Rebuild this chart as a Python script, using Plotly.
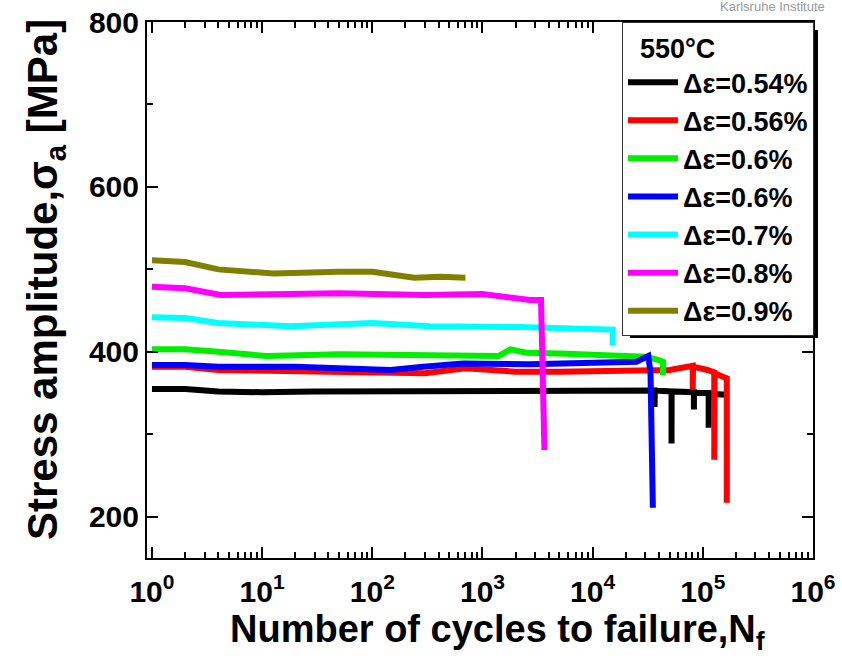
import plotly.graph_objects as go

# ---- data ----
labels = ["Δε=0.54%", "Δε=0.56%", "Δε=0.6%", "Δε=0.6%", "Δε=0.7%", "Δε=0.8%", "Δε=0.9%"]
colors = ["#000000", "#ff0000", "#00ee00", "#0000ff", "#00ffff", "#ff00ff", "#808000"]

n_054 = [1, 2, 4, 10, 30, 100, 300, 1000, 3000, 10000, 30000, 36500, 36500, 36600,
         52000, 52000, 52100, 83000, 83000, 83100, 113000, 113000, 113500, 170000]
s_054 = [355, 355, 352, 351, 352, 352, 353, 352, 353, 353, 353, 353, 333, 353,
         352, 289, 352, 351, 330, 350, 350, 308, 349, 348]

n_056 = [1, 2, 4, 10, 30, 100, 300, 700, 2000, 5000, 20000, 50000, 81000, 81000, 81500,
         110000, 127000, 127000, 128000, 150000, 165000, 165000]
s_056 = [382, 382, 378, 377, 376, 375, 374, 380, 376, 376, 377, 378, 383, 354, 382,
         378, 375, 269, 374, 370, 368, 217]

n_060a = [1, 2, 4, 11, 50, 200, 1000, 1400, 1800, 2500, 5000, 12500, 30000, 40000, 43500, 43500]
s_060a = [403, 403, 400, 395, 397, 396, 394, 395, 403, 399, 398, 396, 394, 390, 388, 372]

n_060b = [1, 2, 4, 20, 50, 146, 290, 670, 2700, 8900, 25000, 32000, 33500, 35200]
s_060b = [384, 384, 382, 382, 380, 378, 382, 386, 385, 386, 388, 395, 375, 211]

n_070 = [1, 2, 4, 18, 100, 335, 2200, 8000, 15200, 15200]
s_070 = [442, 441, 435, 431, 435, 431, 430, 428, 427, 408]

n_080 = [1, 2, 4.2, 50, 300, 1000, 2700, 3400, 3650]
s_080 = [479, 477, 469, 471, 469, 470, 463, 463, 281]

n_090 = [1, 2, 4, 12.7, 50, 100, 240, 420, 700]
s_090 = [511, 509, 500, 495, 497, 497, 490, 491, 490]

series_n = [n_054, n_056, n_060a, n_060b, n_070, n_080, n_090]
series_s = [s_054, s_056, s_060a, s_060b, s_070, s_080, s_090]

x_major = [1, 10, 100, 1000, 10000, 100000, 1000000]
x_major_text = ["10<sup>%d</sup>" % i for i in range(7)]
x_minor = [m * 10 ** e for e in range(6) for m in range(2, 10)]
y_major = [200, 400, 600, 800]

# ---- figure ----
FONT = "Liberation Sans, Arial, sans-serif"
fig = go.Figure()
for n, s, lab, c in zip(series_n, series_s, labels, colors):
    fig.add_trace(go.Scatter(x=n, y=s, mode="lines", name=lab,
                             line=dict(color=c, width=6)))

W, H = 842, 664
ml, mr, mt, mb = 147, 29, 22, 106
pw, ph = W - ml - mr, H - mt - mb

def px_x(p):
    return (p - ml) / pw

def px_y(p):
    return (H - mb - p) / ph

fig.update_layout(
    width=W, height=H,
    margin=dict(l=ml, r=mr, t=mt, b=mb, autoexpand=False),
    paper_bgcolor="white", plot_bgcolor="white",
    font=dict(family=FONT, color="black"),
    showlegend=True,
    legend=dict(
        x=px_x(622), y=1.0, xanchor="left", yanchor="top",
        bgcolor="white", bordercolor="#333", borderwidth=1,
        font=dict(family=FONT, size=27, color="black", weight="bold"),
        title=dict(text="&nbsp;&nbsp;550°C", font=dict(family=FONT, size=27, weight="bold")),
        itemwidth=50,
    ),
    xaxis=dict(
        type="log", range=[-0.045, 6], automargin=False,
        showline=True, linecolor="black", linewidth=2, mirror="ticks",
        ticks="inside", ticklen=11, tickwidth=2, tickcolor="black",
        tickvals=x_major, ticktext=x_major_text, ticklabelstandoff=6,
        tickfont=dict(family=FONT, size=30, weight="bold"),
        minor=dict(tickvals=x_minor, ticks="inside", ticklen=6, tickwidth=2, tickcolor="black"),
        showgrid=False, zeroline=False,
    ),
    yaxis=dict(
        range=[150, 800], automargin=False,
        showline=True, linecolor="black", linewidth=2, mirror="ticks",
        ticks="inside", ticklen=11, tickwidth=2, tickcolor="black",
        tickvals=y_major,
        tickfont=dict(family=FONT, size=30, weight="bold"),
        minor=dict(dtick=100, ticks="inside", ticklen=6, tickwidth=2, tickcolor="black"),
        showgrid=False, zeroline=False,
    ),
    shapes=[dict(type="rect", xref="paper", yref="paper",
                 x0=px_x(630), x1=px_x(818), y0=px_y(338), y1=px_y(30),
                 fillcolor="black", line=dict(width=0), layer="above")],
    annotations=[
        dict(text="Number of cycles to failure,N<sub>f</sub>", xref="paper", yref="paper",
             x=px_x(497), y=px_y(632), xanchor="center", yanchor="middle", showarrow=False,
             font=dict(family=FONT, size=38, weight="bold")),
        dict(text="Stress amplitude,σ<sub>a</sub> [MPa]", xref="paper", yref="paper",
             x=px_x(45), y=px_y(280), xanchor="center", yanchor="middle", showarrow=False,
             textangle=-90, font=dict(family=FONT, size=42, weight="bold")),
        dict(text="Karlsruhe Institute", xref="paper", yref="paper",
             x=px_x(718), y=px_y(7), xanchor="left", yanchor="middle", showarrow=False,
             font=dict(family=FONT, size=13, color="#999999")),
    ],
)
fig.write_html("out.html")
